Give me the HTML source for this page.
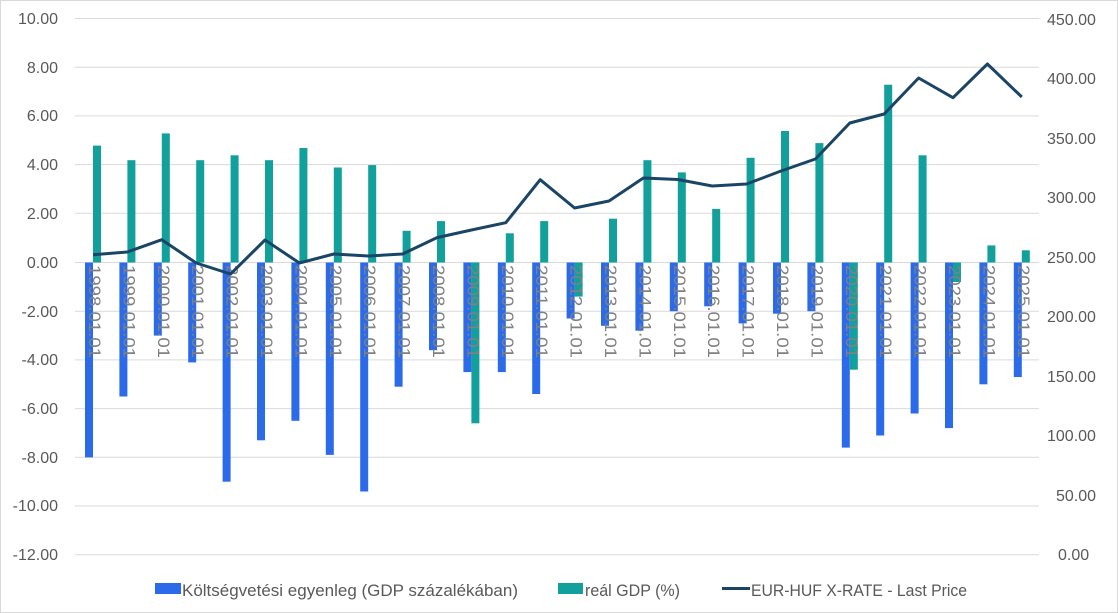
<!DOCTYPE html>
<html><head><meta charset="utf-8"><style>
html,body{margin:0;padding:0;background:#fff;}
svg{display:block;font-family:"Liberation Sans",sans-serif;}
</style></head><body>
<svg width="1118" height="613" viewBox="0 0 1118 613" xmlns="http://www.w3.org/2000/svg">
<rect x="0.5" y="0.5" width="1117" height="612" fill="#fff" stroke="#d9d9d9"/>
<g stroke="#d9d9d9" stroke-width="1">
<line x1="75" x2="1039" y1="18.5" y2="18.5"/><line x1="75" x2="1039" y1="67.2" y2="67.2"/>
<line x1="75" x2="1039" y1="115.9" y2="115.9"/><line x1="75" x2="1039" y1="164.6" y2="164.6"/>
<line x1="75" x2="1039" y1="213.3" y2="213.3"/><line x1="75" x2="1039" y1="262.5" y2="262.5"/>
<line x1="75" x2="1039" y1="311.2" y2="311.2"/><line x1="75" x2="1039" y1="359.9" y2="359.9"/>
<line x1="75" x2="1039" y1="408.6" y2="408.6"/><line x1="75" x2="1039" y1="457.3" y2="457.3"/>
<line x1="75" x2="1039" y1="506" y2="506"/><line x1="75" x2="1039" y1="554.7" y2="554.7"/>
</g>
<g fill="#595959" font-size="16" text-anchor="end">
<text x="58" y="24">10.00</text><text x="58" y="73">8.00</text><text x="58" y="121">6.00</text>
<text x="58" y="170">4.00</text><text x="58" y="219">2.00</text><text x="58" y="268">0.00</text>
<text x="58" y="317">-2.00</text><text x="58" y="365">-4.00</text><text x="58" y="414">-6.00</text>
<text x="58" y="463">-8.00</text><text x="58" y="511">-10.00</text><text x="58" y="560">-12.00</text>
</g>
<g fill="#595959" font-size="16">
<text x="1047" y="25">450.00</text><text x="1047" y="84">400.00</text><text x="1047" y="144">350.00</text>
<text x="1047" y="203">300.00</text><text x="1047" y="263">250.00</text><text x="1047" y="322">200.00</text>
<text x="1047" y="382">150.00</text><text x="1047" y="441">100.00</text><text x="1056" y="501">50.00</text>
<text x="1058" y="560">0.00</text>
</g>
<g fill="#2B6BEA">
<rect x="85" y="262.5" width="8" height="194.9"/><rect x="119.4" y="262.5" width="8" height="134"/>
<rect x="153.8" y="262.5" width="8" height="73.1"/><rect x="188.2" y="262.5" width="8" height="99.9"/>
<rect x="222.6" y="262.5" width="8" height="219.2"/><rect x="257" y="262.5" width="8" height="177.8"/>
<rect x="291.4" y="262.5" width="8" height="158.3"/><rect x="325.8" y="262.5" width="8" height="192.4"/>
<rect x="360.2" y="262.5" width="8" height="229"/><rect x="394.6" y="262.5" width="8" height="124.2"/>
<rect x="429" y="262.5" width="8" height="87.7"/><rect x="463.4" y="262.5" width="8" height="109.6"/>
<rect x="497.8" y="262.5" width="8" height="109.6"/><rect x="532.2" y="262.5" width="8" height="131.5"/>
<rect x="566.6" y="262.5" width="8" height="56"/><rect x="601" y="262.5" width="8" height="63.3"/>
<rect x="635.4" y="262.5" width="8" height="68.2"/><rect x="669.8" y="262.5" width="8" height="48.7"/>
<rect x="704.2" y="262.5" width="8" height="43.8"/><rect x="738.6" y="262.5" width="8" height="60.9"/>
<rect x="773" y="262.5" width="8" height="51.2"/><rect x="807.4" y="262.5" width="8" height="48.7"/>
<rect x="841.8" y="262.5" width="8" height="185.1"/><rect x="876.2" y="262.5" width="8" height="173"/>
<rect x="910.6" y="262.5" width="8" height="151"/><rect x="945" y="262.5" width="8" height="165.6"/>
<rect x="979.4" y="262.5" width="8" height="121.8"/><rect x="1013.8" y="262.5" width="8" height="114.5"/>
</g>
<g fill="#11A09B">
<rect x="93" y="145.6" width="8" height="116.9"/><rect x="127.4" y="160.2" width="8" height="102.3"/>
<rect x="161.8" y="133.4" width="8" height="129.1"/><rect x="196.2" y="160.2" width="8" height="102.3"/>
<rect x="230.6" y="155.3" width="8" height="107.2"/><rect x="265" y="160.2" width="8" height="102.3"/>
<rect x="299.4" y="148" width="8" height="114.5"/><rect x="333.8" y="167.5" width="8" height="95"/>
<rect x="368.2" y="165.1" width="8" height="97.4"/><rect x="402.6" y="230.8" width="8" height="31.7"/>
<rect x="437" y="221.1" width="8" height="41.4"/><rect x="471.4" y="262.5" width="8" height="160.8"/>
<rect x="505.8" y="233.3" width="8" height="29.2"/><rect x="540.2" y="221.1" width="8" height="41.4"/>
<rect x="574.6" y="262.5" width="8" height="34.1"/><rect x="609" y="218.7" width="8" height="43.8"/>
<rect x="643.4" y="160.2" width="8" height="102.3"/><rect x="677.8" y="172.4" width="8" height="90.1"/>
<rect x="712.2" y="208.9" width="8" height="53.6"/><rect x="746.6" y="157.8" width="8" height="104.7"/>
<rect x="781" y="131" width="8" height="131.5"/><rect x="815.4" y="143.1" width="8" height="119.4"/>
<rect x="849.8" y="262.5" width="8" height="107.2"/><rect x="884.2" y="84.7" width="8" height="177.8"/>
<rect x="918.6" y="155.3" width="8" height="107.2"/><rect x="953" y="262.5" width="8" height="19.5"/>
<rect x="987.4" y="245.4" width="8" height="17.1"/><rect x="1021.8" y="250.3" width="8" height="12.2"/>
</g>
<g fill="#808080" font-size="17">
<text transform="translate(89,265) rotate(90)" textLength="93" lengthAdjust="spacingAndGlyphs">1998.01.01</text>
<text transform="translate(123.4,265) rotate(90)" textLength="93" lengthAdjust="spacingAndGlyphs">1999.01.01</text>
<text transform="translate(157.8,265) rotate(90)" textLength="93" lengthAdjust="spacingAndGlyphs">2000.01.01</text>
<text transform="translate(192.2,265) rotate(90)" textLength="93" lengthAdjust="spacingAndGlyphs">2001.01.01</text>
<text transform="translate(226.6,265) rotate(90)" textLength="93" lengthAdjust="spacingAndGlyphs">2002.01.01</text>
<text transform="translate(261,265) rotate(90)" textLength="93" lengthAdjust="spacingAndGlyphs">2003.01.01</text>
<text transform="translate(295.4,265) rotate(90)" textLength="93" lengthAdjust="spacingAndGlyphs">2004.01.01</text>
<text transform="translate(329.8,265) rotate(90)" textLength="93" lengthAdjust="spacingAndGlyphs">2005.01.01</text>
<text transform="translate(364.2,265) rotate(90)" textLength="93" lengthAdjust="spacingAndGlyphs">2006.01.01</text>
<text transform="translate(398.6,265) rotate(90)" textLength="93" lengthAdjust="spacingAndGlyphs">2007.01.01</text>
<text transform="translate(433,265) rotate(90)" textLength="93" lengthAdjust="spacingAndGlyphs">2008.01.01</text>
<text transform="translate(467.4,265) rotate(90)" textLength="93" lengthAdjust="spacingAndGlyphs">2009.01.01</text>
<text transform="translate(501.8,265) rotate(90)" textLength="93" lengthAdjust="spacingAndGlyphs">2010.01.01</text>
<text transform="translate(536.2,265) rotate(90)" textLength="93" lengthAdjust="spacingAndGlyphs">2011.01.01</text>
<text transform="translate(570.6,265) rotate(90)" textLength="93" lengthAdjust="spacingAndGlyphs">2012.01.01</text>
<text transform="translate(605,265) rotate(90)" textLength="93" lengthAdjust="spacingAndGlyphs">2013.01.01</text>
<text transform="translate(639.4,265) rotate(90)" textLength="93" lengthAdjust="spacingAndGlyphs">2014.01.01</text>
<text transform="translate(673.8,265) rotate(90)" textLength="93" lengthAdjust="spacingAndGlyphs">2015.01.01</text>
<text transform="translate(708.2,265) rotate(90)" textLength="93" lengthAdjust="spacingAndGlyphs">2016.01.01</text>
<text transform="translate(742.6,265) rotate(90)" textLength="93" lengthAdjust="spacingAndGlyphs">2017.01.01</text>
<text transform="translate(777,265) rotate(90)" textLength="93" lengthAdjust="spacingAndGlyphs">2018.01.01</text>
<text transform="translate(811.4,265) rotate(90)" textLength="93" lengthAdjust="spacingAndGlyphs">2019.01.01</text>
<text transform="translate(845.8,265) rotate(90)" textLength="93" lengthAdjust="spacingAndGlyphs">2020.01.01</text>
<text transform="translate(880.2,265) rotate(90)" textLength="93" lengthAdjust="spacingAndGlyphs">2021.01.01</text>
<text transform="translate(914.6,265) rotate(90)" textLength="93" lengthAdjust="spacingAndGlyphs">2022.01.01</text>
<text transform="translate(949,265) rotate(90)" textLength="93" lengthAdjust="spacingAndGlyphs">2023.01.01</text>
<text transform="translate(983.4,265) rotate(90)" textLength="93" lengthAdjust="spacingAndGlyphs">2024.01.01</text>
<text transform="translate(1017.8,265) rotate(90)" textLength="93" lengthAdjust="spacingAndGlyphs">2025.01.01</text>
</g>
<polyline fill="none" stroke="#1B4566" stroke-width="3" stroke-linejoin="round" points="93,254.7 127.4,252 161.8,239.7 196.2,263 230.6,274 265,240 299.4,263 333.8,254 368.2,256 402.6,254 437,237.6 471.4,230 505.8,222.7 540.2,179.7 574.6,208 609,201 643.4,178 677.8,179.5 712.2,186 746.6,184 781,171 815.4,159 849.8,123 884.2,114 918.6,78 953,97.7 987.4,64 1021.8,97"/>
<rect x="155" y="583" width="26" height="11" fill="#2B6BEA"/>
<text x="182" y="596" font-size="17" fill="#595959" textLength="336" lengthAdjust="spacingAndGlyphs">Költségvetési egyenleg (GDP százalékában)</text>
<rect x="558" y="583" width="25" height="11" fill="#11A09B"/>
<text x="585" y="596" font-size="17" fill="#595959" textLength="95" lengthAdjust="spacingAndGlyphs">reál GDP (%)</text>
<line x1="722" x2="750" y1="588.5" y2="588.5" stroke="#1B4566" stroke-width="3"/>
<text x="751" y="596" font-size="17" fill="#595959" textLength="216" lengthAdjust="spacingAndGlyphs">EUR-HUF X-RATE - Last Price</text>
</svg>
</body></html>
